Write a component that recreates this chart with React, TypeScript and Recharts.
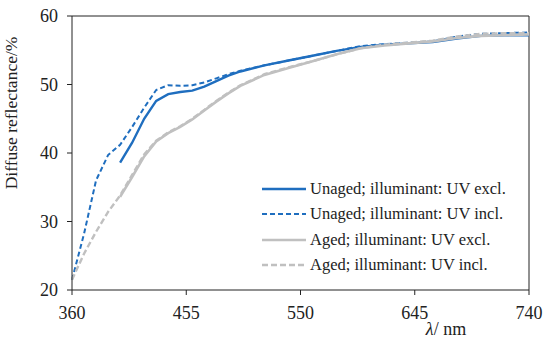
import {
  Line,
  LineChart,
  ReferenceLine,
  XAxis,
  YAxis,
} from "recharts";

const wavelengths = [
  360, 370, 380, 390, 400, 410, 420, 430, 440, 450, 460, 470, 480, 490, 500,
  520, 540, 560, 580, 600, 620, 640, 660, 680, 700, 720, 740,
];

const unagedExcl = [
  null, null, null, null, 38.6, 41.5, 45.0, 47.6, 48.6, 48.9, 49.1, 49.7, 50.5,
  51.3, 51.9, 52.8, 53.5, 54.2, 54.9, 55.5, 55.8, 56.0, 56.2, 56.7, 57.1, 57.2,
  57.2,
];

const unagedIncl = [
  21.5, 28.2, 36.0, 39.7, 41.2, 43.8, 46.6, 49.2, 49.9, 49.8, 49.9, 50.3, 50.9,
  51.5, 52.0, 52.8, 53.5, 54.2, 54.9, 55.6, 55.9, 56.1, 56.3, 57.0, 57.4, 57.5,
  57.6,
];

const agedExcl = [
  null, null, null, null, 33.6, 36.5, 39.5, 41.7, 42.9, 43.8, 44.9, 46.2, 47.5,
  48.7, 49.8, 51.4, 52.4, 53.4, 54.4, 55.3, 55.7, 56.0, 56.3, 56.8, 57.1, 57.2,
  57.3,
];

const agedIncl = [
  21.5, 25.3, 28.5, 31.4, 33.8, 36.8, 39.8, 41.8, 43.0, 43.9, 45.0, 46.3, 47.6,
  48.8, 49.9, 51.5, 52.5, 53.4, 54.4, 55.3, 55.8, 56.1, 56.4, 57.0, 57.4, 57.5,
  57.5,
];

const xTicks = [360, 455, 550, 645, 740];
const yTicks = [20, 30, 40, 50, 60];

const BLUE = "#1f6ebf";
const GRAY = "#c0c0c0";
const FONT = "'Liberation Serif', 'DejaVu Serif', serif";

const series = [
  { key: "unagedExcl", name: "Unaged; illuminant: UV excl.", color: BLUE, dash: undefined, width: 2.4 },
  { key: "unagedIncl", name: "Unaged; illuminant: UV incl.", color: BLUE, dash: "5 3", width: 2 },
  { key: "agedExcl", name: "Aged; illuminant: UV excl.", color: GRAY, dash: undefined, width: 2.6 },
  { key: "agedIncl", name: "Aged; illuminant: UV incl.", color: GRAY, dash: "6 3", width: 2.4 },
];

const data = wavelengths.map((w, i) => ({
  w,
  unagedExcl: unagedExcl[i],
  unagedIncl: unagedIncl[i],
  agedExcl: agedExcl[i],
  agedIncl: agedIncl[i],
}));

function LegendBox() {
  return (
    <div
      style={{
        position: "absolute",
        left: 262,
        top: 176,
        fontFamily: FONT,
        fontSize: 16.5,
        color: "#222",
      }}
    >
      {series.map((s) => (
        <div key={s.key} style={{ display: "flex", alignItems: "center", height: 25.5, whiteSpace: "nowrap" }}>
          <svg width={44} height={6} style={{ marginRight: 4 }}>
            <line
              x1={0}
              y1={3}
              x2={44}
              y2={3}
              stroke={s.color}
              strokeWidth={s.width}
              strokeDasharray={s.dash}
            />
          </svg>
          <span>{s.name}</span>
        </div>
      ))}
    </div>
  );
}

export default function App() {
  return (
    <div style={{ position: "absolute", left: 0, top: 0, width: 550, height: 344, background: "#fff" }}>
      <LineChart
        width={550}
        height={344}
        data={data}
        margin={{ top: 16, right: 21, bottom: 24, left: 12 }}
      >
        <XAxis
          dataKey="w"
          type="number"
          domain={[360, 740]}
          ticks={xTicks}
          stroke="#222"
          tickSize={5}
          tick={{ fontSize: 18, fill: "#222", fontFamily: FONT, dy: 9 }}
          height={30}
        />
        <YAxis
          type="number"
          domain={[20, 60]}
          ticks={yTicks}
          stroke="#222"
          tickSize={5}
          width={60}
          tick={{ fontSize: 18, fill: "#222", fontFamily: FONT, dx: -7 }}
        />
        <ReferenceLine y={60} stroke="#222" />
        <ReferenceLine x={740} stroke="#222" />
        {series.map((s) => (
          <Line
            key={s.key}
            dataKey={s.key}
            name={s.name}
            stroke={s.color}
            strokeWidth={s.width}
            strokeDasharray={s.dash}
            dot={false}
            type="linear"
            isAnimationActive={false}
          />
        ))}
      </LineChart>
      <LegendBox />
      <div
        style={{
          position: "absolute",
          left: 11,
          top: 113,
          transform: "translate(-50%, -50%) rotate(-90deg)",
          whiteSpace: "nowrap",
          fontFamily: FONT,
          fontSize: 17.5,
          color: "#222",
        }}
      >
        Diffuse reflectance/%
      </div>
      <div
        style={{
          position: "absolute",
          left: 446,
          top: 329,
          transform: "translate(-50%, -50%)",
          whiteSpace: "nowrap",
          fontFamily: FONT,
          fontSize: 18,
          color: "#222",
        }}
      >
        <i>λ</i>/ nm
      </div>
    </div>
  );
}
